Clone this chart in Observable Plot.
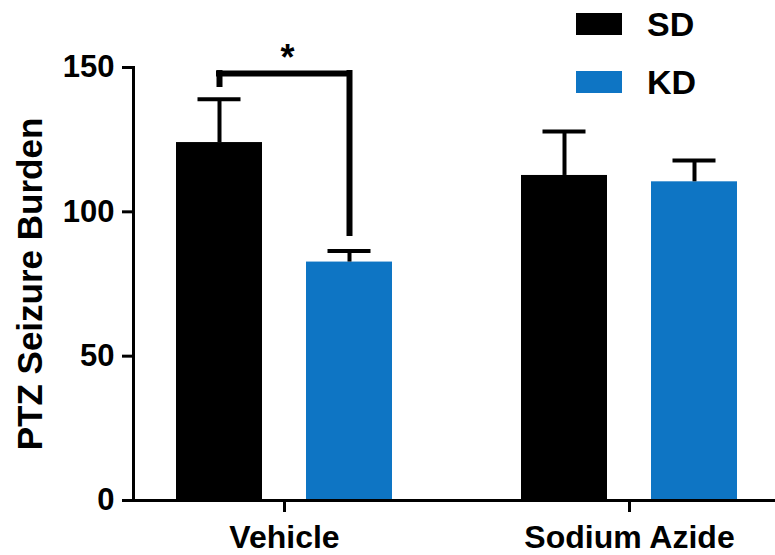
<!DOCTYPE html>
<html>
<head>
<meta charset="utf-8">
<script src="https://cdn.jsdelivr.net/npm/d3@7"></script>
<script src="https://cdn.jsdelivr.net/npm/@observablehq/plot@0.6"></script>
<style>
  html, body { margin: 0; padding: 0; background: #fff; }
  #wrap { position: relative; width: 775px; height: 555px; font-family: "Liberation Sans", Arial, sans-serif; font-weight: bold; }
  #legend { position: absolute; left: 576px; top: 0; }
  .row { position: absolute; left: 0; display: flex; align-items: center; height: 44px; white-space: nowrap; }
  .sw { width: 46px; height: 22px; margin-right: 25px; }
  .lab { font-size: 34px; line-height: 44px; color: #000; }
</style>
</head>
<body>
<div id="wrap"></div>
<script>
// ---- data ----
const groups = ["Vehicle", "Sodium Azide"];
const diets = ["SD", "KD"];
const dietColors = ["#000000", "#0E75C4"];
const sdMean = [124.0, 112.6];
const sdErr = [15.0, 15.2];
const kdMean = [82.6, 110.4];
const kdErr = [3.8, 7.4];
const yTicks = [0, 50, 100, 150];
const yLabel = "PTZ Seizure Burden";
// significance bracket (Vehicle: SD vs KD)
const sigGroup = "Vehicle";
const sigLevel = 147.9;
const sigEnds = [144.1, 92.5]; // SD end, KD end
const sigText = "*";

const rows = [];
groups.forEach((g, i) => {
  rows.push({group: g, diet: "SD", mean: sdMean[i], err: sdErr[i]});
  rows.push({group: g, diet: "KD", mean: kdMean[i], err: kdErr[i]});
});

const offset = {SD: -65, KD: 65};
const font = "'Liberation Sans', Arial, sans-serif";

const marks = [];
for (const diet of diets) {
  const sub = rows.filter(d => d.diet === diet);
  marks.push(Plot.barY(sub, {x: "group", y: "mean", fill: "diet", dx: offset[diet]}));
  marks.push(Plot.ruleX(sub, {x: "group", y1: "mean", y2: d => d.mean + d.err, dx: offset[diet], stroke: "#000", strokeWidth: 4}));
  marks.push(Plot.tickY(sub, {x: "group", y: d => d.mean + d.err, dx: offset[diet], insetLeft: 21.5, insetRight: 21.5, stroke: "#000", strokeWidth: 4}));
}
// bracket
const br = [{group: sigGroup, level: sigLevel, sdEnd: sigEnds[0], kdEnd: sigEnds[1], text: sigText}];
marks.push(Plot.ruleX(br, {x: "group", y1: "sdEnd", y2: "level", dx: offset.SD, stroke: "#000", strokeWidth: 6, strokeLinecap: "square"}));
marks.push(Plot.ruleX(br, {x: "group", y1: "kdEnd", y2: "level", dx: offset.KD, stroke: "#000", strokeWidth: 6, strokeLinecap: "square"}));
marks.push(Plot.ruleY(br, {x1: "group", x2: "group", y: "level", insetLeft: -22, insetRight: -22, stroke: "#000", strokeWidth: 6, strokeLinecap: "square"}));
marks.push(Plot.text(br, {x: "group", y: "level", text: "text", lineAnchor: "bottom", dy: -4, dx: 3, fontSize: 36, fontWeight: "bold", fill: "#000"}));

// axes
marks.push(Plot.ruleY([0], {stroke: "#000", strokeWidth: 3}));
marks.push(Plot.frame({anchor: "left", stroke: "#000", strokeWidth: 3}));
marks.push(Plot.axisY({ticks: yTicks, tickSize: 11, tickPadding: 8, fontSize: 31, fontWeight: "bold", strokeWidth: 3, label: null}));
marks.push(Plot.axisY({ticks: [], tickSize: 0, label: yLabel, labelAnchor: "center", labelArrow: "none", labelOffset: 116, fontSize: 35, fontWeight: "bold"}));
marks.push(Plot.axisX({tickSize: 12, tickPadding: 13, fontSize: 32, fontWeight: "bold", strokeWidth: 3, label: null}));

const plot = Plot.plot({
  width: 775,
  height: 555,
  marginLeft: 133,
  marginRight: 0,
  marginTop: 67,
  marginBottom: 55,
  style: {fontFamily: font, fontWeight: "bold", color: "#000", background: "#fff", overflow: "visible"},
  x: {domain: groups, range: [241, 672.5], paddingInner: 0.751, paddingOuter: 0, axis: null},
  y: {domain: [0, 150], axis: null},
  color: {domain: diets, range: dietColors},
  marks
});

const wrap = document.getElementById("wrap");
wrap.appendChild(plot);

// legend (HTML overlay, top right)
const color = plot.scale("color");
const legend = document.createElement("div");
legend.id = "legend";
diets.forEach((d, i) => {
  const row = document.createElement("div");
  row.className = "row";
  row.style.top = (2 + i * 58) + "px";
  const sw = document.createElement("div");
  sw.className = "sw";
  sw.style.background = color.apply(d);
  const lab = document.createElement("span");
  lab.className = "lab";
  lab.textContent = d;
  row.appendChild(sw);
  row.appendChild(lab);
  legend.appendChild(row);
});
wrap.appendChild(legend);
</script>
</body>
</html>
